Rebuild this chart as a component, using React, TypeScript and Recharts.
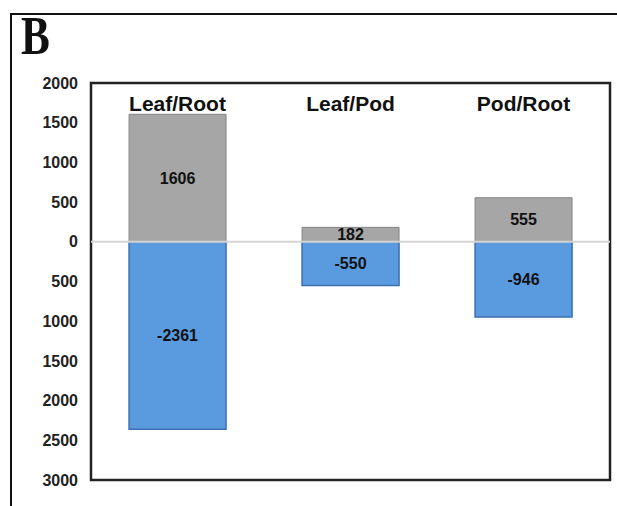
import {
  Bar,
  BarChart,
  LabelList,
  ReferenceArea,
  ReferenceLine,
  XAxis,
  YAxis,
} from "recharts";

const categories = ["Leaf/Root", "Leaf/Pod", "Pod/Root"];
const upValues = [1606, 182, 555];
const downValues = [-2361, -550, -946];
const yTicks = [2000, 1500, 1000, 500, 0, -500, -1000, -1500, -2000, -2500, -3000];

const chartData = categories.map((name, i) => ({
  name,
  up: upValues[i],
  down: downValues[i],
}));

const FONT = "'Liberation Sans', Arial, sans-serif";

// category names sit inside the plot box, just under its top edge
function CategoryTick(props: any) {
  const { x, y, payload } = props;
  return (
    <text
      x={x}
      y={y}
      dy={28}
      textAnchor="middle"
      dominantBaseline="central"
      fontFamily={FONT}
      fontWeight={700}
      fontSize={21}
      fill="#111"
    >
      {payload?.value}
    </text>
  );
}

export default function App() {
  return (
    <div
      style={{
        position: "absolute",
        left: 0,
        top: 0,
        width: 617,
        height: 506,
        background: "#fff",
        overflow: "hidden",
      }}
    >
      {/* open frame: top and left edges only */}
      <div
        style={{
          position: "absolute",
          left: 10,
          top: 13,
          width: 620,
          height: 520,
          borderTop: "2px solid #111",
          borderLeft: "2px solid #111",
        }}
      />
      <div
        style={{
          position: "absolute",
          left: 21,
          top: 6,
          fontFamily: "'Liberation Serif', 'Times New Roman', serif",
          fontWeight: 700,
          fontSize: 54,
          lineHeight: "60px",
          transform: "scaleX(0.8)",
          transformOrigin: "left top",
          color: "#111",
        }}
      >
        B
      </div>
      <BarChart
        width={617}
        height={506}
        data={chartData}
        stackOffset="sign"
        barCategoryGap="22%"
        margin={{ top: 53, right: 7, bottom: 26, left: 11 }}
        style={{ position: "absolute", left: 0, top: 0 }}
      >
        <XAxis
          dataKey="name"
          orientation="top"
          height={30}
          axisLine={false}
          tickLine={false}
          tickMargin={2}
          tick={CategoryTick}
          interval={0}
        />
        <YAxis
          width={80}
          domain={[-3000, 2000]}
          ticks={yTicks}
          axisLine={false}
          tickLine={false}
          tickMargin={7}
          interval={0}
          tickFormatter={(v: number) => `${Math.abs(v)}`}
          tick={{ fontFamily: FONT, fontWeight: 700, fontSize: 16, fill: "#222" }}
        />
        <ReferenceLine y={0} stroke="#d4d4d4" strokeWidth={2} />
        <Bar
          dataKey="up"
          stackId="a"
          fill="#a6a6a6"
          stroke="#858585"
          strokeWidth={1}
          isAnimationActive={false}
        >
          <LabelList
            dataKey="up"
            position="center"
            fill="#111"
            fontFamily={FONT}
            fontWeight={700}
            fontSize={16}
          />
        </Bar>
        <Bar
          dataKey="down"
          stackId="a"
          fill="#5a9be0"
          stroke="#3a70b0"
          strokeWidth={1.5}
          isAnimationActive={false}
        >
          <LabelList
            dataKey="down"
            position="center"
            fill="#111"
            fontFamily={FONT}
            fontWeight={700}
            fontSize={16}
          />
        </Bar>
        <ReferenceArea
          y1={-3000}
          y2={2000}
          fill="none"
          stroke="#222"
          strokeWidth={2.5}
          fillOpacity={0}
        />
      </BarChart>
    </div>
  );
}
